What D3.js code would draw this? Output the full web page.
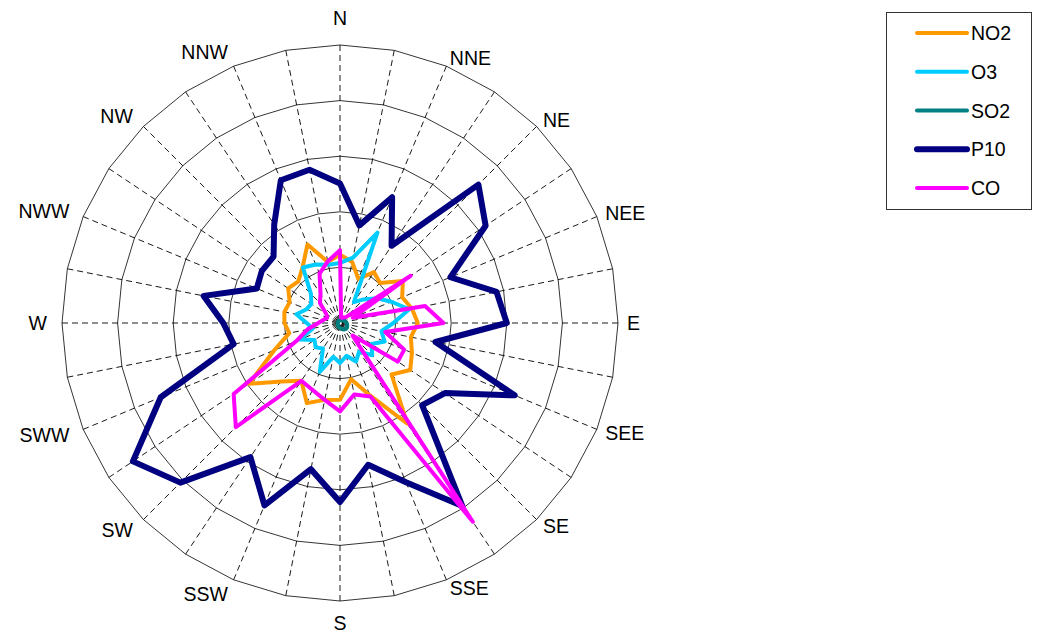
<!DOCTYPE html>
<html>
<head>
<meta charset="utf-8">
<script src="https://cdn.jsdelivr.net/npm/d3@7"></script>
<style>
  html, body { margin: 0; padding: 0; background: #fff; }
  svg { display: block; font-family: "Liberation Sans", Arial, sans-serif; }
</style>
</head>
<body>
<div id="chart"></div>
<script>
// wind directions of the samples (degrees, clockwise from north)
const angles = [0, 11.25, 22.5, 33.75, 45, 56.25, 67.5, 78.75, 90, 101.25, 112.5, 123.75,
  135, 146.25, 157.5, 168.75, 180, 191.25, 202.5, 213.75, 225, 236.25, 247.5, 258.75,
  270, 281.25, 292.5, 303.75, 315, 326.25, 337.5, 348.75];

const dirLabels = ['N', 'NNE', 'NE', 'NEE', 'E', 'SEE', 'SE', 'SSE',
  'S', 'SSW', 'SW', 'SWW', 'W', 'NWW', 'NW', 'NNW'];

const ringValues = [1, 2, 3, 4, 5];

const seriesNames = ['NO2', 'O3', 'SO2', 'P10', 'CO'];

const NO2 = [1.23, 1.12, 0.86, 1.1, 1.02, 1.36, 1.21, 1.32, 1.4, 1.3, 1.4, 1.52,
  1.31, 2.18, 1.41, 1.03, 1.38, 1.41, 1.56, 1.25, 1.49, 1.97, 1.28, 0.93,
  1.0, 1.02, 0.98, 1.12, 1.06, 1.21, 1.53, 1.12];

const O3 = [1.08, 1.2, 1.76, 0.45, 0.6, 0.8, 1.0, 1.27, 0.96, 0.76, 0.87, 0.68,
  0.82, 0.62, 0.75, 0.6, 0.72, 0.62, 0.95, 0.55, 0.62, 0.55, 0.78, 0.5,
  0.6, 0.8, 0.65, 0.62, 0.74, 1.2, 1.14, 1.07];

const SO2 = [0.05, 0.05, 0.06, 0.06, 0.07, 0.08, 0.09, 0.1, 0.12, 0.13, 0.14, 0.15,
  0.15, 0.14, 0.12, 0.1, 0.09, 0.08, 0.07, 0.06, 0.05, 0.05, 0.04, 0.04,
  0.04, 0.04, 0.04, 0.04, 0.04, 0.04, 0.05, 0.05];

const P10 = [2.51, 1.79, 2.45, 1.67, 3.52, 3.15, 2.15, 2.87, 3.0, 1.75, 3.4, 2.27,
  2.09, 3.96, 3.1, 2.6, 3.22, 2.68, 3.55, 2.9, 4.06, 4.48, 3.49, 1.95,
  2.1, 2.5, 1.62, 1.69, 1.69, 2.13, 2.78, 2.81];

const CO = [1.31, 0.1, 0.1, 0.12, 0.15, 1.53, 0.25, 1.56, 1.86, 0.83, 1.25, 1.25,
  0.32, 4.3, 1.43, 1.31, 1.59, 1.41, 1.3, 1.25, 2.65, 2.3, 0.85, 0.6,
  0.39, 0.3, 0.25, 0.3, 0.51, 0.63, 0.96, 1.13];

const seriesValues = [NO2, O3, SO2, P10, CO];
const seriesColors = ['#ff9900', '#00ccff', '#008080', '#000080', '#ff00ff'];
const seriesWidths = [4, 4, 4, 6, 4];

const width = 1046, height = 636;
const cx = 340, cy = 323, R = 278;

const svg = d3.select('#chart').append('svg')
  .attr('width', width)
  .attr('height', height);

const r = d3.scaleLinear().domain([0, 5]).range([0, R]);
const rad = d => d * Math.PI / 180;

const g = svg.append('g').attr('transform', `translate(${cx},${cy})`);

// rings (polygons through the spokes)
const ringLine = d3.lineRadial()
  .angle(d => rad(d))
  .curve(d3.curveLinearClosed);

g.selectAll('path.ring')
  .data(ringValues)
  .join('path')
  .attr('class', 'ring')
  .attr('d', v => ringLine.radius(r(v))(angles))
  .attr('fill', 'none')
  .attr('stroke', '#000')
  .attr('stroke-width', 0.8);

// spokes
g.selectAll('line.spoke')
  .data(angles)
  .join('line')
  .attr('class', 'spoke')
  .attr('x1', a => r(5) * Math.sin(rad(a)))
  .attr('y1', a => -r(5) * Math.cos(rad(a)))
  .attr('x2', 0)
  .attr('y2', 0)
  .attr('stroke', '#000')
  .attr('stroke-width', 0.9)
  .attr('stroke-dasharray', '6,4');

// direction labels
const labelAngles = dirLabels.map((d, i) => i * 22.5);
g.selectAll('text.dir')
  .data(dirLabels)
  .join('text')
  .attr('class', 'dir')
  .each(function (d, i) {
    const a = rad(labelAngles[i]);
    const s = Math.sin(a), c = Math.cos(a);
    const rr = Math.abs(s) < 0.01 ? (c > 0 ? 305 : 300) : (s > 0 ? 287 : 293);
    d3.select(this)
      .attr('x', rr * s)
      .attr('y', -rr * c)
      .attr('text-anchor', s > 0.01 ? 'start' : (s < -0.01 ? 'end' : 'middle'));
  })
  .attr('dominant-baseline', 'central')
  .attr('font-size', 19.5)
  .attr('fill', '#000')
  .text(d => d);

// series
const line = d3.lineRadial()
  .angle((d, i) => rad(angles[i]))
  .radius(d => r(d))
  .curve(d3.curveLinearClosed);

seriesNames.forEach((name, si) => {
  g.append('path')
    .datum(seriesValues[si])
    .attr('d', line)
    .attr('fill', 'none')
    .attr('stroke', seriesColors[si])
    .attr('stroke-width', seriesWidths[si])
    .attr('stroke-linejoin', 'round');
});

// legend
const leg = svg.append('g').attr('transform', 'translate(886,12)');
leg.append('rect')
  .attr('x', 0.5).attr('y', 0.5)
  .attr('width', 145).attr('height', 197)
  .attr('fill', '#fff')
  .attr('stroke', '#333')
  .attr('stroke-width', 1);

const legY = d3.scalePoint().domain(seriesNames).range([21, 176]);
const items = leg.selectAll('g.item')
  .data(seriesNames)
  .join('g')
  .attr('class', 'item')
  .attr('transform', d => `translate(0,${legY(d)})`);

items.append('line')
  .attr('x1', 31).attr('x2', 81)
  .attr('stroke', (d, i) => seriesColors[i])
  .attr('stroke-width', (d, i) => seriesWidths[i])
  .attr('stroke-linecap', 'round');

items.append('text')
  .attr('x', 85)
  .attr('dominant-baseline', 'central')
  .attr('font-size', 19.5)
  .attr('fill', '#000')
  .text(d => d);
</script>
</body>
</html>
